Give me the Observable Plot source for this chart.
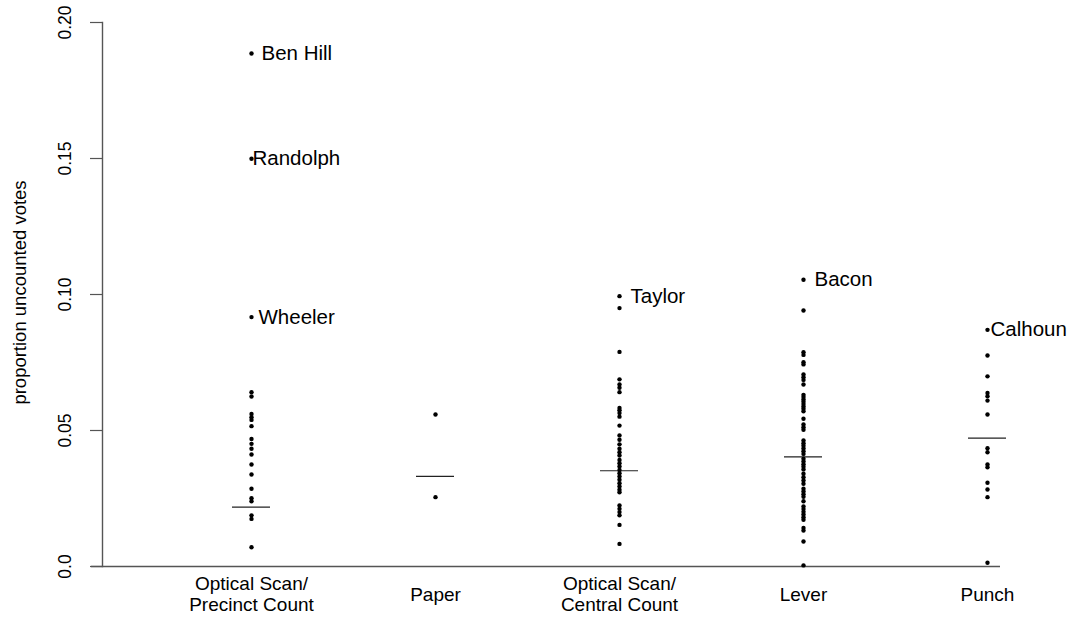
<!DOCTYPE html>
<html><head><meta charset="utf-8">
<script src="https://cdn.jsdelivr.net/npm/d3@7"></script>
<script src="https://cdn.jsdelivr.net/npm/@observablehq/plot@0.6"></script>
<style>html,body{margin:0;padding:0;background:#fff} svg{display:block}</style>
</head><body><div id="chart"></div>
<script>
const categories = ["Optical Scan/\nPrecinct Count", "Paper", "Optical Scan/\nCentral Count", "Lever", "Punch"];

const precinctCount = [0.1886, 0.1499, 0.0917, 0.0641, 0.0625, 0.0561, 0.0549, 0.0539, 0.0516, 0.0469, 0.0451, 0.0433, 0.0412, 0.0375, 0.0338, 0.0286, 0.0251, 0.0240, 0.0188, 0.0175, 0.0071];
const paper = [0.0559, 0.0255];
const centralCount = [0.0994, 0.0950, 0.0789, 0.0688, 0.0669, 0.0657, 0.0641, 0.0583, 0.0574, 0.0564, 0.0551, 0.0518, 0.0482, 0.0466, 0.0449, 0.0433, 0.0420, 0.0408, 0.0392, 0.0380, 0.0368, 0.0355, 0.0343, 0.0331, 0.0319, 0.0306, 0.0294, 0.0282, 0.0273, 0.0224, 0.0212, 0.0200, 0.0188, 0.0153, 0.0083];
const lever = [0.1054, 0.0941, 0.0788, 0.0778, 0.0751, 0.0743, 0.0706, 0.0696, 0.0686, 0.0669, 0.0631, 0.0623, 0.0614, 0.0606, 0.0597, 0.0588, 0.0580, 0.0571, 0.0543, 0.0522, 0.0512, 0.0503, 0.0463, 0.0453, 0.0444, 0.0434, 0.0424, 0.0414, 0.0396, 0.0386, 0.0376, 0.0367, 0.0357, 0.0341, 0.0328, 0.0316, 0.0304, 0.0286, 0.0276, 0.0266, 0.0256, 0.0240, 0.0221, 0.0211, 0.0201, 0.0191, 0.0181, 0.0172, 0.0142, 0.0132, 0.0092, 0.0004];
const punch = [0.0870, 0.0776, 0.0699, 0.0638, 0.0626, 0.0610, 0.0559, 0.0435, 0.0420, 0.0375, 0.0365, 0.0308, 0.0283, 0.0255, 0.0014];

const summaryLines = [0.0218, 0.0331, 0.0352, 0.0403, 0.0472];

const yTicks = [0, 0.05, 0.10, 0.15, 0.20];
const yTickLabels = ["0.0", "0.05", "0.10", "0.15", "0.20"];

const outlierNames = ["Ben Hill", "Randolph", "Wheeler", "Taylor", "Bacon", "Calhoun"];
const outlierCategory = [0, 0, 0, 2, 3, 4];
const outlierValues = [0.1886, 0.1499, 0.0917, 0.0994, 0.1054, 0.0870];

// build tables
const series = [precinctCount, paper, centralCount, lever, punch];
const points = [];
series.forEach((vals, i) => vals.forEach(v => points.push({cat: categories[i], v})));
const lines = summaryLines.map((v, i) => ({cat: categories[i], v}));
const outliers = outlierNames.map((name, i) => ({name, cat: categories[outlierCategory[i]], v: outlierValues[i]}));

const labelDx = {"Ben Hill": 10, "Randolph": 1, "Wheeler": 7, "Taylor": 11, "Bacon": 11, "Calhoun": 3};
const axisColor = "#555";

const chart = Plot.plot({
  width: 1075,
  height: 626,
  marginTop: 22,
  marginBottom: 60,
  marginLeft: 102,
  marginRight: 75,
  style: {fontFamily: "'Liberation Sans', Arial, Helvetica, sans-serif", background: "#fff", color: "#000"},
  x: {type: "band", domain: categories, range: [159, 1079], padding: 0, axis: null},
  y: {domain: [0, 0.2], range: [566, 22], axis: null},
  marks: [
    Plot.ruleY([0], {stroke: axisColor, strokeWidth: 1.4, insetLeft: -11}),
    Plot.frame({anchor: "left", stroke: axisColor, strokeWidth: 1.4}),
    Plot.axisY({ticks: yTicks, tickSize: 12, tickFormat: () => "", label: null, stroke: axisColor, strokeWidth: 1.2}),
    Plot.text(yTicks, {y: d => d, text: (d, i) => yTickLabels[i], frameAnchor: "left", dx: -37, rotate: -90, textAnchor: "middle", lineAnchor: "middle", fontSize: 17.5, fill: "#000"}),
    Plot.text(["proportion uncounted votes"], {frameAnchor: "left", dx: -82, dy: -2, rotate: -90, textAnchor: "middle", lineAnchor: "middle", fontSize: 18.5, fill: "#000"}),
    Plot.text(categories, {x: d => d, text: d => d, frameAnchor: "bottom", dy: 27, textAnchor: "middle", lineAnchor: "middle", fontSize: 19, lineHeight: 1.15, fill: "#000"}),
    Plot.tickY(lines, {x: "cat", y: "v", insetLeft: 73, insetRight: 73, stroke: "#222", strokeWidth: 1.2}),
    Plot.dot(points, {x: "cat", y: "v", r: 2.2, fill: "#000", stroke: null}),
    ...outliers.map(o => Plot.text([o], {x: "cat", y: "v", text: "name", textAnchor: "start", lineAnchor: "middle", dx: labelDx[o.name], fontSize: 20.5, fill: "#000"}))
  ]
});
document.getElementById("chart").appendChild(chart);
</script>
</body></html>
